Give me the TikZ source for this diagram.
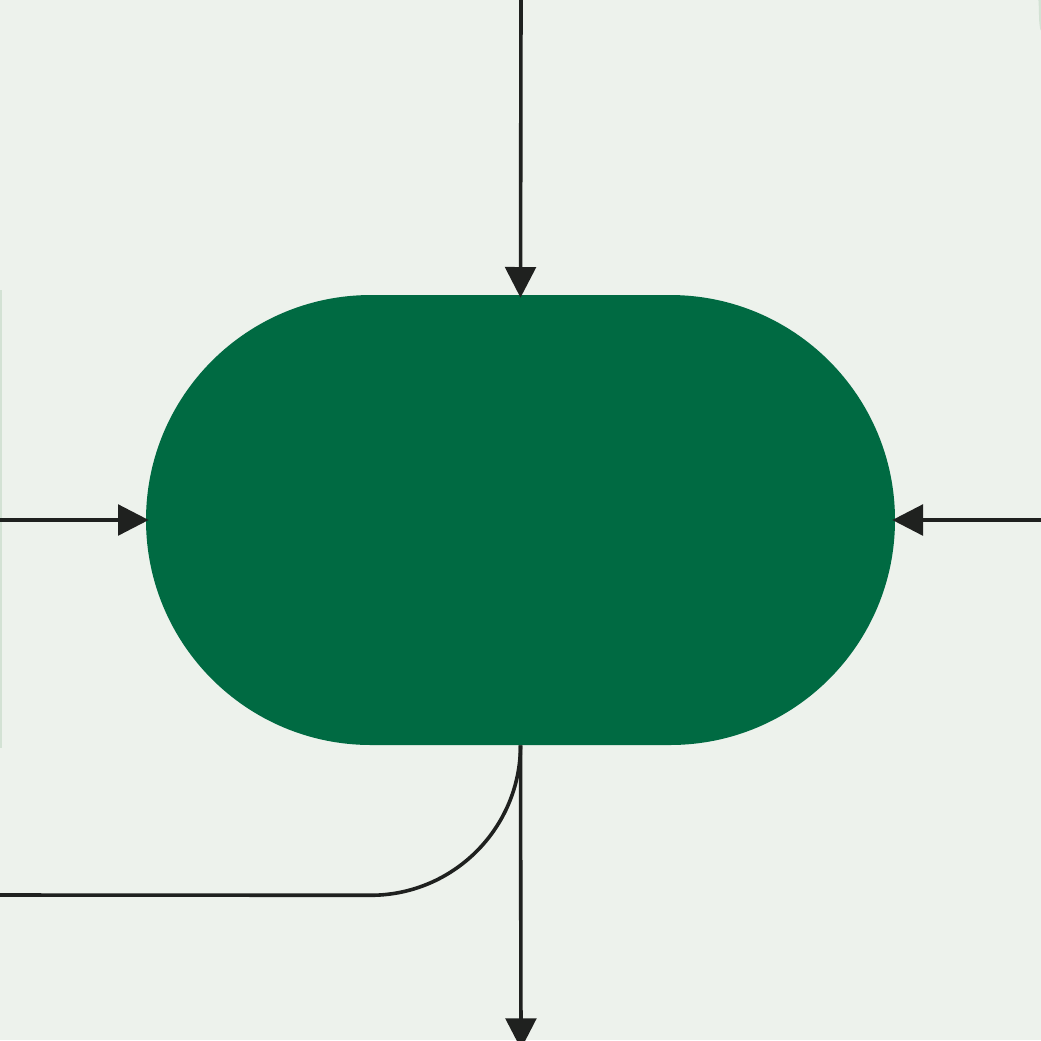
\documentclass[tikz,border=0pt]{standalone}
\usetikzlibrary{arrows.meta}
\definecolor{bgc}{HTML}{EDF2EC}
\definecolor{termc}{HTML}{006A42}
\definecolor{linec}{HTML}{1F211F}
\definecolor{faintc}{HTML}{D3E2D4}
\tikzset{
  conn/.style={draw=linec, line width=2.7pt},
  arr/.style={conn, -{Triangle[length=23pt,width=23pt]}, shorten >=-2.2pt},
  term/.style={draw=none, fill=termc, rectangle, rounded corners=168.75pt,
    minimum width=561.75pt, minimum height=337.5pt, inner sep=0pt}
}
\begin{document}
\begin{tikzpicture}[x=0.75pt,y=-0.75pt]
\fill[bgc] (0,0) rectangle (1041,1040);
\useasboundingbox (0,0) rectangle (1041,1040);
% faint partial shapes at the edges
\draw[faintc, line width=1.5pt] (0.7,290) -- (0.7,748);
\draw[faintc, line width=2pt] (1039,0) to[out=80,in=260] (1041.5,24);
\node[term] (s) at (520.5,520) {};
\coordinate (t) at (521,0);
\coordinate (l) at (0,520);
\coordinate (r) at (1041,520);
\coordinate (b) at (521,1046);
\coordinate (c) at (0,895);
\draw[arr] (t) -- (s.north);
\draw[arr] (l) -- (s.west);
\draw[arr] (r) -- (s.east);
\draw[arr] (s.south) -- (b);
\draw[conn] (s.south) arc[start angle=0, end angle=90, radius=150] -- (c);
\end{tikzpicture}
\end{document}
